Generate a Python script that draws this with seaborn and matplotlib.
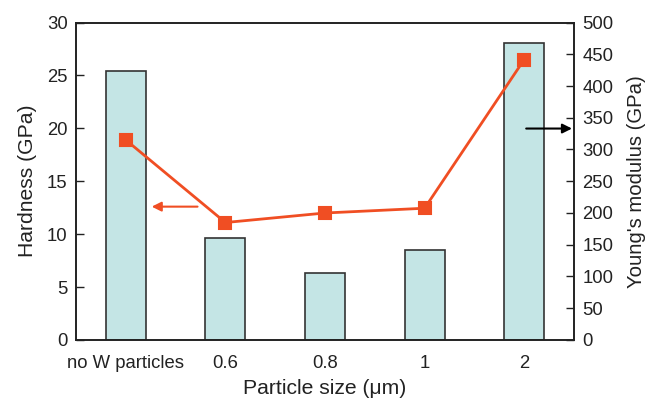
import matplotlib
matplotlib.use("Agg")
import matplotlib.pyplot as plt
import seaborn as sns

# data
sizes = ["no W particles", "0.6", "0.8", "1", "2"]
hardness = [18.9, 11.1, 12.0, 12.45, 26.5]          # GPa, left axis (line)
modulus = [424, 160, 105, 141, 467]                 # GPa, right axis (bars)

sns.set_style("white")
plt.rcParams["font.family"] = ["Liberation Sans", "DejaVu Sans"]
plt.rcParams["font.size"] = 13

fig = plt.figure(figsize=(6.48, 3.99), dpi=100)
ax = fig.add_axes([0.1173, 0.1479, 0.8858 - 0.1173, 0.9436 - 0.1479])
ax2 = ax.twinx()

# bars -> Young's modulus (right)
sns.barplot(x=sizes, y=modulus, ax=ax2, width=0.4, color="#c4e5e5",
            edgecolor="#333333", linewidth=1.2, saturation=1)

# line -> hardness (left), drawn above bars
sns.pointplot(x=sizes, y=hardness, ax=ax, color="#f04e23", markers="s",
              markersize=8, linewidth=2, markeredgecolor="#f04e23")
ax.set_zorder(ax2.get_zorder() + 1)
ax.patch.set_visible(False)

for a in (ax, ax2):
    a.set_xlim(-0.5, 4.5)
    for s in a.spines.values():
        s.set_color("#222222")
        s.set_linewidth(1.2)

ax.set_ylim(0, 30)
ax.set_yticks(range(0, 31, 5))
ax2.set_ylim(0, 500)
ax2.set_yticks(range(0, 501, 50))

ax.tick_params(axis="y", direction="in", length=6, width=1, colors="#222222",
               labelsize=13.3, pad=6)
ax2.tick_params(axis="y", direction="in", length=6, width=1, colors="#222222",
                labelsize=13.3, pad=6)
ax.tick_params(axis="x", length=0, labelsize=13.3, colors="#222222", pad=11)
ax2.tick_params(axis="x", length=0)

ax.set_xlabel("Particle size (\u03bcm)", fontsize=15.2, color="#222222", labelpad=5)
ax.set_ylabel("Hardness (GPa)", fontsize=15.2, color="#222222", labelpad=7)
ax2.set_ylabel("Young's modulus (GPa)", fontsize=14.6, color="#222222", labelpad=10)

# arrows pointing to the relevant axis
ax.annotate("", xy=(0.26, 12.6), xytext=(0.72, 12.6),
            arrowprops=dict(arrowstyle="-|>", color="#f04e23", lw=1.5,
                            mutation_scale=14, shrinkA=0, shrinkB=0))
ax2.annotate("", xy=(4.48, 333), xytext=(4.02, 333),
             arrowprops=dict(arrowstyle="-|>", color="black", lw=1.5,
                             mutation_scale=14, shrinkA=0, shrinkB=0))

fig.savefig("out.png", dpi=100)
